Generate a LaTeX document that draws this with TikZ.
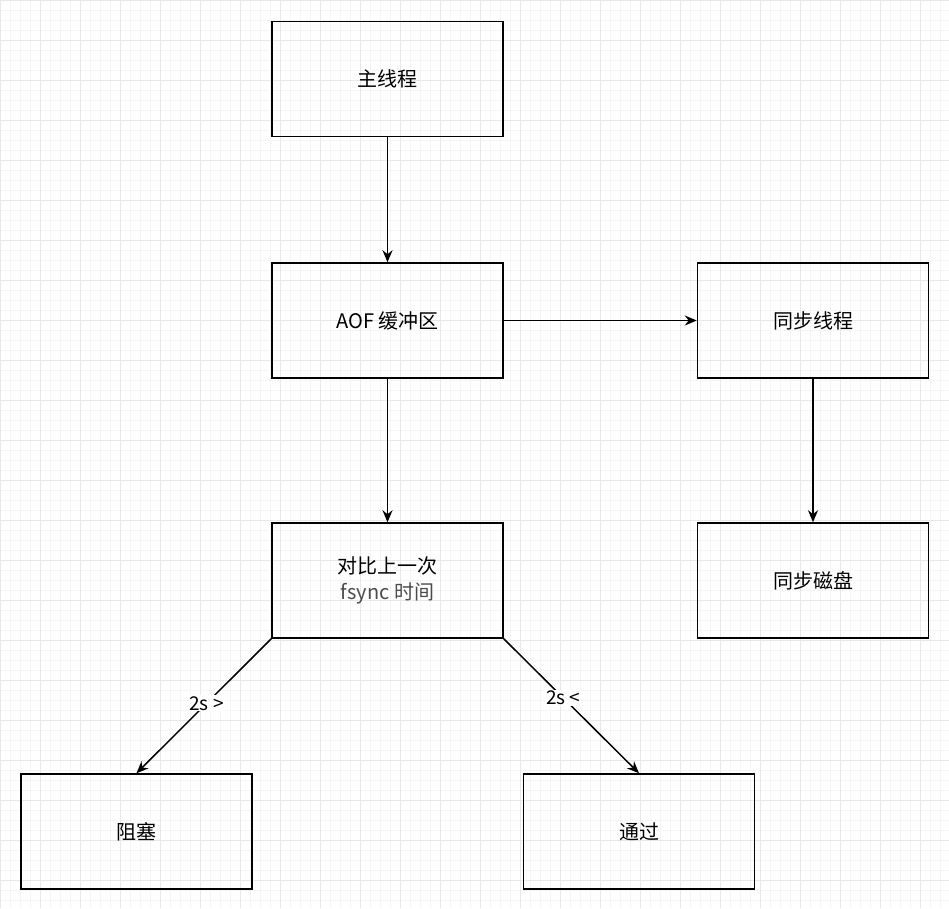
\documentclass[tikz,border=0pt]{standalone}
\usepackage{fontspec}
\setmainfont{Noto Sans CJK SC}
\usetikzlibrary{arrows.meta}
\tikzset{
  box/.style={draw, line width=1.5pt, minimum width=231pt, minimum height=115pt, font=\fontsize{20}{26}\selectfont, align=center},
  link/.style={line width=1.5pt, -{Stealth[length=12pt,width=10pt]}},
  lbl/.style={fill=white, font=\fontsize{19}{21}\selectfont, inner sep=1pt}
}
\begin{document}
\begin{tikzpicture}[x=1pt,y=-1pt]
\useasboundingbox (0,0) rectangle (949,908);
\begin{scope}[y=1pt]
\draw[black!4, step=10] (0,-908) grid (949,0);
\draw[black!9, step=40] (0,-908) grid (949,0);
\end{scope}

\node[box] (main) at (387.5,79) {主线程};
\node[box] (buf) at (387.5,320.5) {AOF 缓冲区};
\node[box] (sync) at (813,320.5) {同步线程};
\node[box] (cmp) at (387.5,580.5) {对比上一次\\\textcolor{black!70}{fsync 时间}};
\node[box] (disk) at (813,580.5) {同步磁盘};
\node[box] (block) at (136.5,831.5) {阻塞};
\node[box] (pass) at (639,831.5) {通过};

\draw[link] (main) -- (buf);
\draw[link] (buf) -- (sync);
\draw[link] (sync) -- (disk);
\draw[link] (buf) -- (cmp);
\draw[link] (cmp.south west) -- node[lbl, pos=.48] {2s >} (block.north);
\draw[link] (cmp.south east) -- node[lbl, pos=.44] {2s <} (pass.north);
\end{tikzpicture}
\end{document}
